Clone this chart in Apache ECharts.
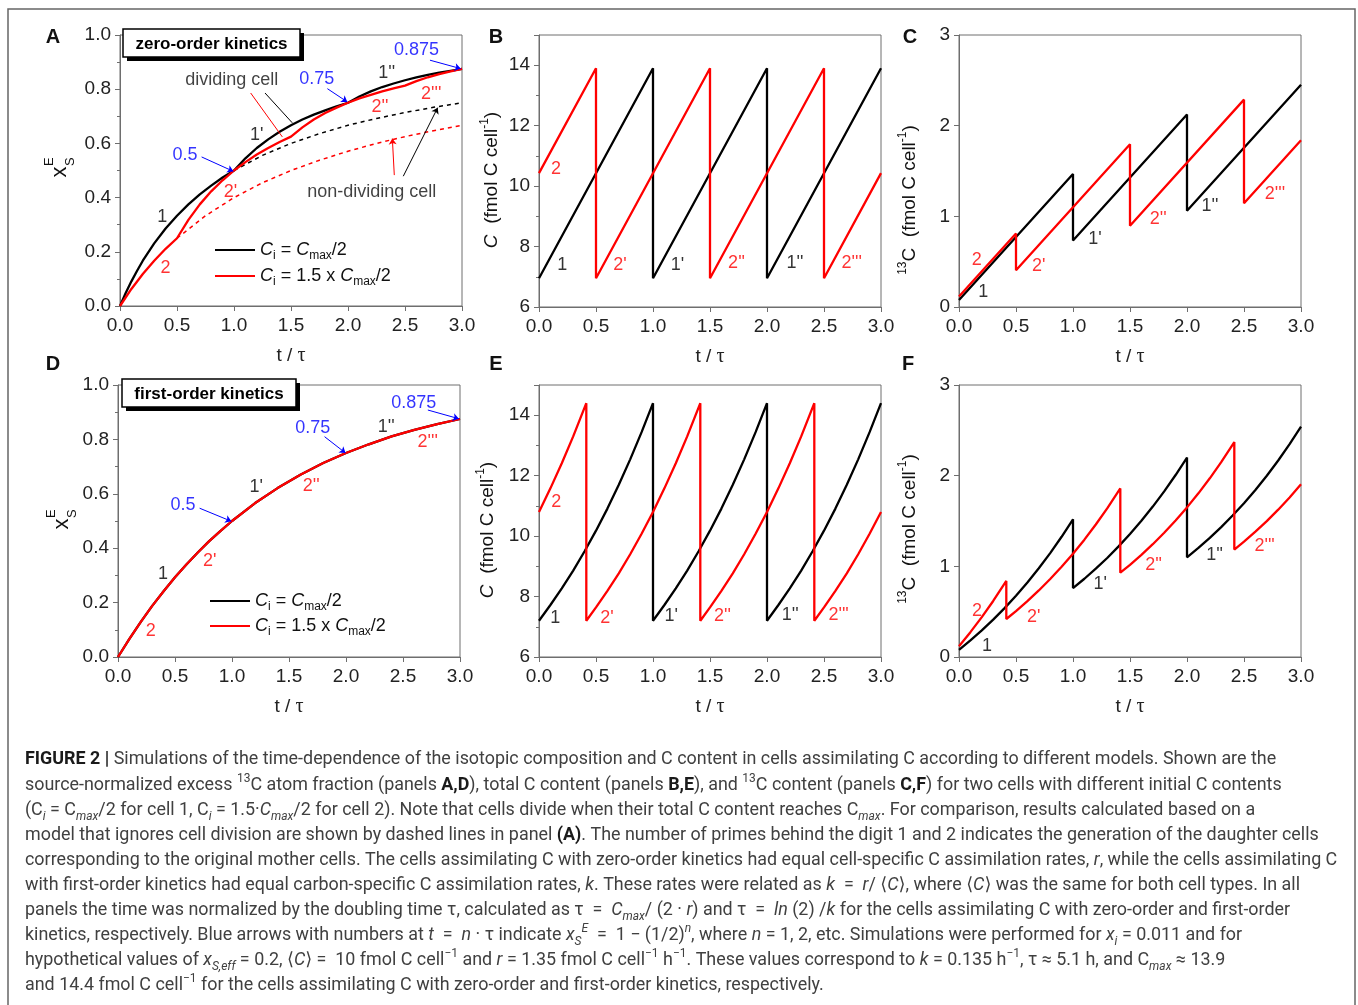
<!DOCTYPE html>
<html>
<head>
<meta charset="utf-8">
<title>Figure 2</title>
<script src="https://cdn.jsdelivr.net/npm/echarts@6/dist/echarts.min.js"></script>
<style>
  html, body { margin: 0; padding: 0; background: #fff; }
  #chart { width: 1358px; height: 1005px; }
</style>
</head>
<body>
<div id="chart"></div>
<script>
// ---------- values ----------
// panel A: zero-order kinetics, x_S^E of dividing cells
const xsZero1 = [[0,0],[0.05,0.048],[0.1,0.091],[0.15,0.130],[0.2,0.167],[0.3,0.231],[0.4,0.286],[0.5,0.333],[0.6,0.375],[0.7,0.412],[0.8,0.444],[0.9,0.474],[1,0.5],[1.1,0.545],[1.2,0.583],[1.3,0.615],[1.4,0.643],[1.5,0.667],[1.6,0.688],[1.7,0.706],[1.8,0.722],[1.9,0.737],[2,0.75],[2.1,0.773],[2.2,0.792],[2.3,0.808],[2.4,0.821],[2.5,0.833],[2.6,0.844],[2.7,0.853],[2.8,0.861],[2.9,0.868],[3,0.875]];
const xsZero2 = [[0,0],[0.1,0.063],[0.2,0.118],[0.3,0.167],[0.4,0.211],[0.5,0.25],[0.6,0.318],[0.7,0.375],[0.8,0.423],[0.9,0.464],[1,0.5],[1.1,0.531],[1.2,0.559],[1.3,0.583],[1.4,0.605],[1.5,0.625],[1.6,0.659],[1.7,0.688],[1.8,0.712],[1.9,0.732],[2,0.75],[2.1,0.766],[2.2,0.779],[2.3,0.792],[2.4,0.803],[2.5,0.813],[2.6,0.830],[2.7,0.844],[2.8,0.856],[2.9,0.866],[3,0.875]];
// panel A: non-dividing cells (dashed)
const xsNonDiv1 = [[1,0.5],[1.25,0.556],[1.5,0.6],[1.75,0.636],[2,0.667],[2.25,0.692],[2.5,0.714],[2.75,0.733],[3,0.75]];
const xsNonDiv2 = [[0.5,0.25],[0.75,0.333],[1,0.4],[1.25,0.455],[1.5,0.5],[1.75,0.538],[2,0.571],[2.25,0.6],[2.5,0.625],[2.75,0.647],[3,0.667]];
// panel B: total C, zero-order
const cZero1 = [[0,6.95],[1,13.9],[1,6.95],[2,13.9],[2,6.95],[3,13.9]];
const cZero2 = [[0,10.43],[0.5,13.9],[0.5,6.95],[1.5,13.9],[1.5,6.95],[2.5,13.9],[2.5,6.95],[3,10.43]];
// panel C: 13C, zero-order
const c13Zero1 = [[0,0.077],[1,1.467],[1,0.733],[2,2.123],[2,1.062],[3,2.452]];
const c13Zero2 = [[0,0.115],[0.5,0.81],[0.5,0.405],[1.5,1.795],[1.5,0.897],[2.5,2.287],[2.5,1.144],[3,1.839]];
// panel D: first-order kinetics, both cells on the same curve
const xsFirst = [[0,0],[0.1,0.067],[0.2,0.129],[0.3,0.188],[0.4,0.242],[0.5,0.293],[0.6,0.340],[0.7,0.384],[0.8,0.426],[0.9,0.464],[1,0.5],[1.2,0.565],[1.4,0.621],[1.6,0.670],[1.8,0.713],[2,0.75],[2.2,0.782],[2.4,0.811],[2.6,0.835],[2.8,0.856],[3,0.875]];
// panel E: total C, first-order
const cFirst1 = [[0,7.2],[0.1,7.72],[0.2,8.27],[0.3,8.86],[0.4,9.5],[0.5,10.18],[0.6,10.91],[0.7,11.7],[0.8,12.54],[0.9,13.44],[1,14.4],[1,7.2],[1.1,7.72],[1.2,8.27],[1.3,8.86],[1.4,9.5],[1.5,10.18],[1.6,10.91],[1.7,11.7],[1.8,12.54],[1.9,13.44],[2,14.4],[2,7.2],[2.1,7.72],[2.2,8.27],[2.3,8.86],[2.4,9.5],[2.5,10.18],[2.6,10.91],[2.7,11.7],[2.8,12.54],[2.9,13.44],[3,14.4]];
const cFirst2 = [[0,10.8],[0.1,11.58],[0.2,12.41],[0.3,13.3],[0.415,14.4],[0.415,7.2],[0.5,7.64],[0.6,8.19],[0.7,8.77],[0.8,9.4],[0.9,10.08],[1,10.8],[1.1,11.58],[1.2,12.41],[1.3,13.3],[1.415,14.4],[1.415,7.2],[1.5,7.64],[1.6,8.19],[1.7,8.77],[1.8,9.4],[1.9,10.08],[2,10.8],[2.1,11.58],[2.2,12.41],[2.3,13.3],[2.415,14.4],[2.415,7.2],[2.5,7.64],[2.6,8.19],[2.7,8.77],[2.8,9.4],[2.9,10.08],[3,10.8]];
// panel F: 13C, first-order
const c13First1 = [[0,0.079],[0.1,0.183],[0.2,0.293],[0.3,0.412],[0.4,0.539],[0.5,0.676],[0.6,0.822],[0.7,0.979],[0.8,1.146],[0.9,1.326],[1,1.519],[1,0.760],[1.1,0.863],[1.2,0.974],[1.3,1.092],[1.4,1.220],[1.5,1.356],[1.6,1.502],[1.7,1.659],[1.8,1.827],[1.9,2.007],[2,2.200],[2,1.100],[2.1,1.203],[2.2,1.314],[2.3,1.433],[2.4,1.560],[2.5,1.696],[2.6,1.842],[2.7,1.999],[2.8,2.167],[2.9,2.347],[3,2.540]];
const c13First2 = [[0,0.119],[0.1,0.274],[0.2,0.440],[0.3,0.618],[0.415,0.839],[0.415,0.419],[0.5,0.507],[0.6,0.616],[0.7,0.734],[0.8,0.860],[0.9,0.995],[1,1.139],[1.1,1.294],[1.2,1.461],[1.3,1.639],[1.415,1.859],[1.415,0.930],[1.5,1.017],[1.6,1.127],[1.7,1.244],[1.8,1.370],[1.9,1.505],[2,1.650],[2.1,1.805],[2.2,1.971],[2.3,2.149],[2.415,2.370],[2.415,1.185],[2.5,1.272],[2.6,1.382],[2.7,1.499],[2.8,1.625],[2.9,1.760],[3,1.905]];

// generation labels [text, t, y, cell]  (cell: 1 black, 2 red, 0 blue value)
const labelsA = [['1',0.37,0.33,1],['2',0.40,0.14,2],["1'",1.20,0.63,1],["2'",0.97,0.42,2],["2''",2.28,0.735,2],["1''",2.34,0.858,1],["2'''",2.73,0.784,2],['0.5',0.57,0.557,0],['0.75',1.725,0.839,0],['0.875',2.60,0.944,0]];
const labelsB = [['2',0.15,10.58,2],['1',0.205,7.38,1],["2'",0.71,7.38,2],["1'",1.215,7.38,1],["2''",1.733,7.44,2],["1''",2.245,7.44,1],["2'''",2.743,7.44,2]];
const labelsC = [['2',0.155,0.515,2],['1',0.213,0.165,1],["2'",0.70,0.449,2],["1'",1.193,0.746,1],["2''",1.748,0.975,2],["1''",2.202,1.11,1],["2'''",2.772,1.25,2]];
const labelsD = [['1',0.394,0.306,1],['2',0.287,0.094,2],["2'",0.804,0.351,2],["1'",1.213,0.624,1],["2''",1.695,0.63,2],["1''",2.352,0.847,1],["2'''",2.717,0.79,2],['0.5',0.57,0.557,0],['0.75',1.709,0.843,0],['0.875',2.594,0.935,0]];
const labelsE = [['2',0.152,11.14,2],['1',0.143,7.29,1],["2'",0.596,7.29,2],["1'",1.16,7.34,1],["2''",1.61,7.34,2],["1''",2.204,7.40,1],["2'''",2.628,7.40,2]];
const labelsF = [['2',0.158,0.511,2],['1',0.246,0.125,1],["2'",0.655,0.441,2],["1'",1.239,0.806,1],["2''",1.707,1.011,2],["1''",2.242,1.129,1],["2'''",2.681,1.221,2]];

// arrows at t = n*tau (from label to curve)
const blueArrowsA = [[[0.716,0.550],[0.994,0.497]],[[1.819,0.802],[1.994,0.753]],[[2.719,0.907],[2.988,0.876]]];
const blueArrowsD = [[[0.716,0.547],[0.994,0.499]],[[1.812,0.810],[1.996,0.750]],[[2.718,0.908],[2.99,0.876]]];
// pointer lines of "dividing cell" / "non-dividing cell"
const dividingBlack = [[[1.272,0.786],[1.511,0.676]]];
const dividingRed = [[[1.146,0.786],[1.424,0.624]]];
const nonDivBlack = [[[2.485,0.479],[2.787,0.732]]];
const nonDivRed = [[[2.406,0.483],[2.389,0.618]]];

// ---------- styles ----------
const FONT = '"Liberation Sans", Arial, sans-serif';
const AXIS = '#6e6e6e';
const COLORS = {0: '#0000ff', 1: '#000000', 2: '#ff0000'};

const chart = echarts.init(document.getElementById('chart'));

const grids = [
  {left: 120, top: 35, width: 342, height: 271},
  {left: 539, top: 35, width: 342, height: 272},
  {left: 959, top: 35, width: 342, height: 272},
  {left: 118, top: 385, width: 342, height: 272},
  {left: 539, top: 385, width: 342, height: 272},
  {left: 959, top: 385, width: 342, height: 272}
].map(g => Object.assign({show: true, borderColor: AXIS, borderWidth: 1, backgroundColor: 'transparent'}, g));

function xAx(i) {
  return {
    type: 'value', gridIndex: i, min: 0, max: 3, interval: 0.5,
    axisLine: {onZero: false, lineStyle: {color: AXIS}},
    axisTick: {length: 5, lineStyle: {color: AXIS}},
    axisLabel: {fontSize: 19, color: '#222', margin: 10, fontFamily: FONT, formatter: v => v.toFixed(1)},
    splitLine: {show: false},
    name: '{a|t / }{b|τ}', nameLocation: 'middle', nameGap: 40,
    nameTextStyle: {rich: {
      a: {fontSize: 19, fontFamily: FONT, color: '#222'},
      b: {fontSize: 20, fontFamily: '"Liberation Serif", serif', color: '#222'}
    }}
  };
}
function yAx(i, min, max, step, minor, digits, showMax) {
  return {
    type: 'value', gridIndex: i, min: min, max: max, interval: step,
    axisLine: {onZero: false, lineStyle: {color: AXIS}},
    axisTick: {length: 5, lineStyle: {color: AXIS}},
    minorTick: {show: minor, splitNumber: 2, length: 3, lineStyle: {color: AXIS}},
    axisLabel: {fontSize: 19, color: '#222', margin: 9, fontFamily: FONT, showMaxLabel: showMax,
      formatter: v => v.toFixed(digits)},
    splitLine: {show: false}, minorSplitLine: {show: false}
  };
}

function curve(name, g, data, color, dashed) {
  return {
    name: name, type: 'line', xAxisIndex: g, yAxisIndex: g, data: data,
    symbol: 'none', showSymbol: false, silent: true, animation: false,
    z: dashed ? 2 : 3,
    lineStyle: {color: color, width: dashed ? 1.5 : 2.3, type: dashed ? [4, 4] : 'solid'},
    itemStyle: {color: color}
  };
}
function notes(g, list) {
  return {
    type: 'scatter', xAxisIndex: g, yAxisIndex: g, symbolSize: 1, silent: true, z: 6, animation: false,
    itemStyle: {color: 'rgba(0,0,0,0)'},
    data: list.map(n => ({value: [n[1], n[2]], name: n[0], label: {color: COLORS[n[3]]}})),
    label: {show: true, position: 'inside', formatter: '{b}', fontSize: 18, fontFamily: FONT}
  };
}
function pointer(g, list, color, head) {
  return {
    type: 'lines', coordinateSystem: 'cartesian2d', xAxisIndex: g, yAxisIndex: g,
    silent: true, z: 5, animation: false,
    symbol: head ? ['none', 'arrow'] : ['none', 'none'], symbolSize: 6,
    lineStyle: {color: color, width: 1, opacity: 1},
    data: list.map(c => ({coords: c}))
  };
}

const series = [
  // A
  curve('nd1', 0, xsNonDiv1, '#000', true),
  curve('nd2', 0, xsNonDiv2, '#f00', true),
  curve('cell1', 0, xsZero1, '#000'),
  curve('cell2', 0, xsZero2, '#f00'),
  notes(0, labelsA),
  pointer(0, blueArrowsA, '#0000ff', true),
  pointer(0, dividingBlack, '#000', false),
  pointer(0, dividingRed, '#f00', false),
  pointer(0, nonDivBlack, '#000', true),
  pointer(0, nonDivRed, '#f00', true),
  {type: 'scatter', xAxisIndex: 0, yAxisIndex: 0, symbolSize: 1, silent: true, itemStyle: {color: 'rgba(0,0,0,0)'},
   data: [{value: [0.98, 0.833], name: 'dividing cell'}, {value: [2.208, 0.419], name: 'non-dividing cell'}],
   label: {show: true, position: 'inside', formatter: '{b}', fontSize: 18, fontFamily: FONT, color: '#111'}},
  // B
  curve('cell1', 1, cZero1, '#000'),
  curve('cell2', 1, cZero2, '#f00'),
  notes(1, labelsB),
  // C
  curve('cell1', 2, c13Zero1, '#000'),
  curve('cell2', 2, c13Zero2, '#f00'),
  notes(2, labelsC),
  // D
  curve('cell1', 3, xsFirst, '#000'),
  curve('cell2', 3, xsFirst, '#f00'),
  notes(3, labelsD),
  pointer(3, blueArrowsD, '#0000ff', true),
  // E
  curve('cell1', 4, cFirst1, '#000'),
  curve('cell2', 4, cFirst2, '#f00'),
  notes(4, labelsE),
  // F
  curve('cell1', 5, c13First1, '#000'),
  curve('cell2', 5, c13First2, '#f00'),
  notes(5, labelsF)
];

// legend text with italic C and subscripts
const legendRich = {
  it: {fontStyle: 'italic', fontSize: 18, fontFamily: FONT, color: '#111', lineHeight: 24},
  sub: {fontSize: 12, fontFamily: FONT, color: '#111', lineHeight: 12, verticalAlign: 'bottom'}
};
function legendText(name) {
  return name === 'cell1' ? '{it|C}{sub|i} = {it|C}{sub|max}/2' : '{it|C}{sub|i} = 1.5 x {it|C}{sub|max}/2';
}
function legendAt(left, top, gap) {
  return {
    left: left, top: top, orient: 'vertical', data: ['cell1', 'cell2'], selectedMode: false,
    itemWidth: 40, itemHeight: 2, itemGap: gap, formatter: legendText,
    itemStyle: {opacity: 0},
    textStyle: {fontSize: 18, fontFamily: FONT, color: '#111', lineHeight: 24, rich: legendRich}
  };
}

// ---------- graphic: letters, y titles, boxes, caption ----------
const graphic = [];
graphic.push({type: 'rect', silent: true, shape: {x: 8, y: 9, width: 1347, height: 1010},
  style: {fill: 'none', stroke: '#666', lineWidth: 1.5}});

[['A', 53, 37], ['B', 496, 37], ['C', 910, 37], ['D', 53, 364], ['E', 496, 364], ['F', 908, 364]].forEach(p => {
  graphic.push({type: 'text', x: p[1], y: p[2], silent: true,
    style: {text: p[0], font: 'bold 20px ' + FONT, fill: '#111', align: 'center', verticalAlign: 'middle'}});
});

// x_S^E titles (rotated)
function xsTitle(x, y) {
  return {type: 'group', x: x, y: y, rotation: Math.PI / 2, silent: true, children: [
    {type: 'text', x: 0, y: 0, style: {text: 'x', font: '22px ' + FONT, fill: '#111', align: 'center', verticalAlign: 'middle'}},
    {type: 'text', x: 6, y: 10, style: {text: 'S', font: '13px ' + FONT, fill: '#111', align: 'left', verticalAlign: 'middle'}},
    {type: 'text', x: 6, y: -11, style: {text: 'E', font: '13px ' + FONT, fill: '#111', align: 'left', verticalAlign: 'middle'}}
  ]};
}
graphic.push(xsTitle(60, 172), xsTitle(62, 524));

const titleRich = {
  n: {fontSize: 19, fontFamily: FONT, fill: '#111', lineHeight: 26},
  i: {fontSize: 19, fontFamily: FONT, fill: '#111', fontStyle: 'italic', lineHeight: 26},
  sup: {fontSize: 12, fontFamily: FONT, fill: '#111', lineHeight: 12, verticalAlign: 'top'}
};
function yTitle(x, y, txt) {
  return {type: 'text', x: x, y: y, rotation: Math.PI / 2, silent: true,
    style: {text: txt, rich: titleRich, fontSize: 19, fontFamily: FONT, fill: '#111', lineHeight: 26,
      align: 'center', verticalAlign: 'middle'}};
}
graphic.push(yTitle(492, 180, '{i|C}{n|  (fmol C cell}{sup|-1}{n|)}'));
graphic.push(yTitle(488, 530, '{i|C}{n|  (fmol C cell}{sup|-1}{n|)}'));
graphic.push(yTitle(910, 200, '{sup|13}{n|C  (fmol C cell}{sup|-1}{n|)}'));
graphic.push(yTitle(910, 529, '{sup|13}{n|C  (fmol C cell}{sup|-1}{n|)}'));

// boxed kinetics labels with a black shadow
function kinBox(x, y, w, h, txt) {
  return {type: 'group', x: x, y: y, silent: true, z: 10, children: [
    {type: 'rect', shape: {x: 4, y: 4, width: w, height: h}, style: {fill: '#000'}},
    {type: 'rect', shape: {x: 0, y: 0, width: w, height: h}, style: {fill: '#fff', stroke: '#000', lineWidth: 1.5}},
    {type: 'text', x: w / 2, y: h / 2 + 1, style: {text: txt, font: 'bold 17px ' + FONT, fill: '#000', align: 'center', verticalAlign: 'middle'}}
  ]};
}
graphic.push(kinBox(123, 29, 177, 28, 'zero-order kinetics'));
graphic.push(kinBox(122, 379, 174, 28, 'first-order kinetics'));

// caption
const CAPFONT = 'Roboto, "DejaVu Sans", sans-serif';
const CAPSIZE = 17.9;
const CAPCOL = '#404040';
function cs(extra) {
  return Object.assign({fontSize: CAPSIZE, fontFamily: CAPFONT, fill: CAPCOL, lineHeight: 25}, extra);
}
const capRich = {
  b: cs({fontWeight: 'bold', fill: '#1a1a1a'}),
  i: cs({fontStyle: 'italic'}),
  sup: cs({fontSize: 12, lineHeight: 12, verticalAlign: 'top'}),
  sub: cs({fontSize: 12, lineHeight: 12, verticalAlign: 'bottom'}),
  isup: cs({fontSize: 12, lineHeight: 12, verticalAlign: 'top', fontStyle: 'italic'}),
  isub: cs({fontSize: 12, lineHeight: 12, verticalAlign: 'bottom', fontStyle: 'italic'})
};
const captionLines = [
  '{b|FIGURE 2 |} Simulations of the time-dependence of the isotopic composition and C content in cells assimilating C according to different models. Shown are the',
  'source-normalized excess {sup|13}C atom fraction (panels {b|A,D}), total C content (panels {b|B,E}), and {sup|13}C content (panels {b|C,F}) for two cells with different initial C contents',
  '(C{isub|i} = C{isub|max}/2 for cell 1, C{isub|i} = 1.5·{i|C}{isub|max}/2 for cell 2). Note that cells divide when their total C content reaches C{isub|max}. For comparison, results calculated based on a',
  'model that ignores cell division are shown by dashed lines in panel {b|(A)}. The number of primes behind the digit 1 and 2 indicates the generation of the daughter cells',
  'corresponding to the original mother cells. The cells assimilating C with zero-order kinetics had equal cell-specific C assimilation rates, {i|r}, while the cells assimilating C',
  'with first-order kinetics had equal carbon-specific C assimilation rates, {i|k}. These rates were related as {i|k}  =  {i|r}/ ⟨{i|C}⟩, where ⟨{i|C}⟩ was the same for both cell types. In all',
  'panels the time was normalized by the doubling time τ, calculated as τ  =  {i|C}{isub|max}/ (2 · {i|r}) and τ  =  {i|ln} (2) /{i|k} for the cells assimilating C with zero-order and first-order',
  'kinetics, respectively. Blue arrows with numbers at {i|t}  =  {i|n} · τ indicate {i|x}{isub|S}{isup|E}  =  1 − (1/2){isup|n}, where {i|n} = 1, 2, etc. Simulations were performed for {i|x}{isub|i} = 0.011 and for',
  'hypothetical values of {i|x}{isub|S,eff} = 0.2, ⟨{i|C}⟩ =  10 fmol C cell{sup|−1} and {i|r} = 1.35 fmol C cell{sup|−1} h{sup|−1}. These values correspond to {i|k} = 0.135 h{sup|−1}, τ ≈ 5.1 h, and C{isub|max} ≈ 13.9',
  'and 14.4 fmol C cell{sup|−1} for the cells assimilating C with zero-order and first-order kinetics, respectively.'
];
captionLines.forEach((txt, k) => {
  graphic.push({type: 'text', x: 25, y: 760 + k * 25.1, silent: true,
    style: Object.assign(cs({}), {text: txt, rich: capRich, align: 'left', verticalAlign: 'middle'})});
});

chart.setOption({
  animation: false,
  backgroundColor: '#fff',
  grid: grids,
  xAxis: [0, 1, 2, 3, 4, 5].map(xAx),
  yAxis: [
    yAx(0, 0, 1, 0.2, true, 1, true),
    yAx(1, 6, 15, 2, true, 0, false),
    yAx(2, 0, 3, 1, false, 0, true),
    yAx(3, 0, 1, 0.2, true, 1, true),
    yAx(4, 6, 15, 2, true, 0, false),
    yAx(5, 0, 3, 1, false, 0, true)
  ],
  legend: [legendAt(209, 233, 2), legendAt(204, 584, 1)],
  series: series,
  graphic: graphic
});
</script>
</body>
</html>
